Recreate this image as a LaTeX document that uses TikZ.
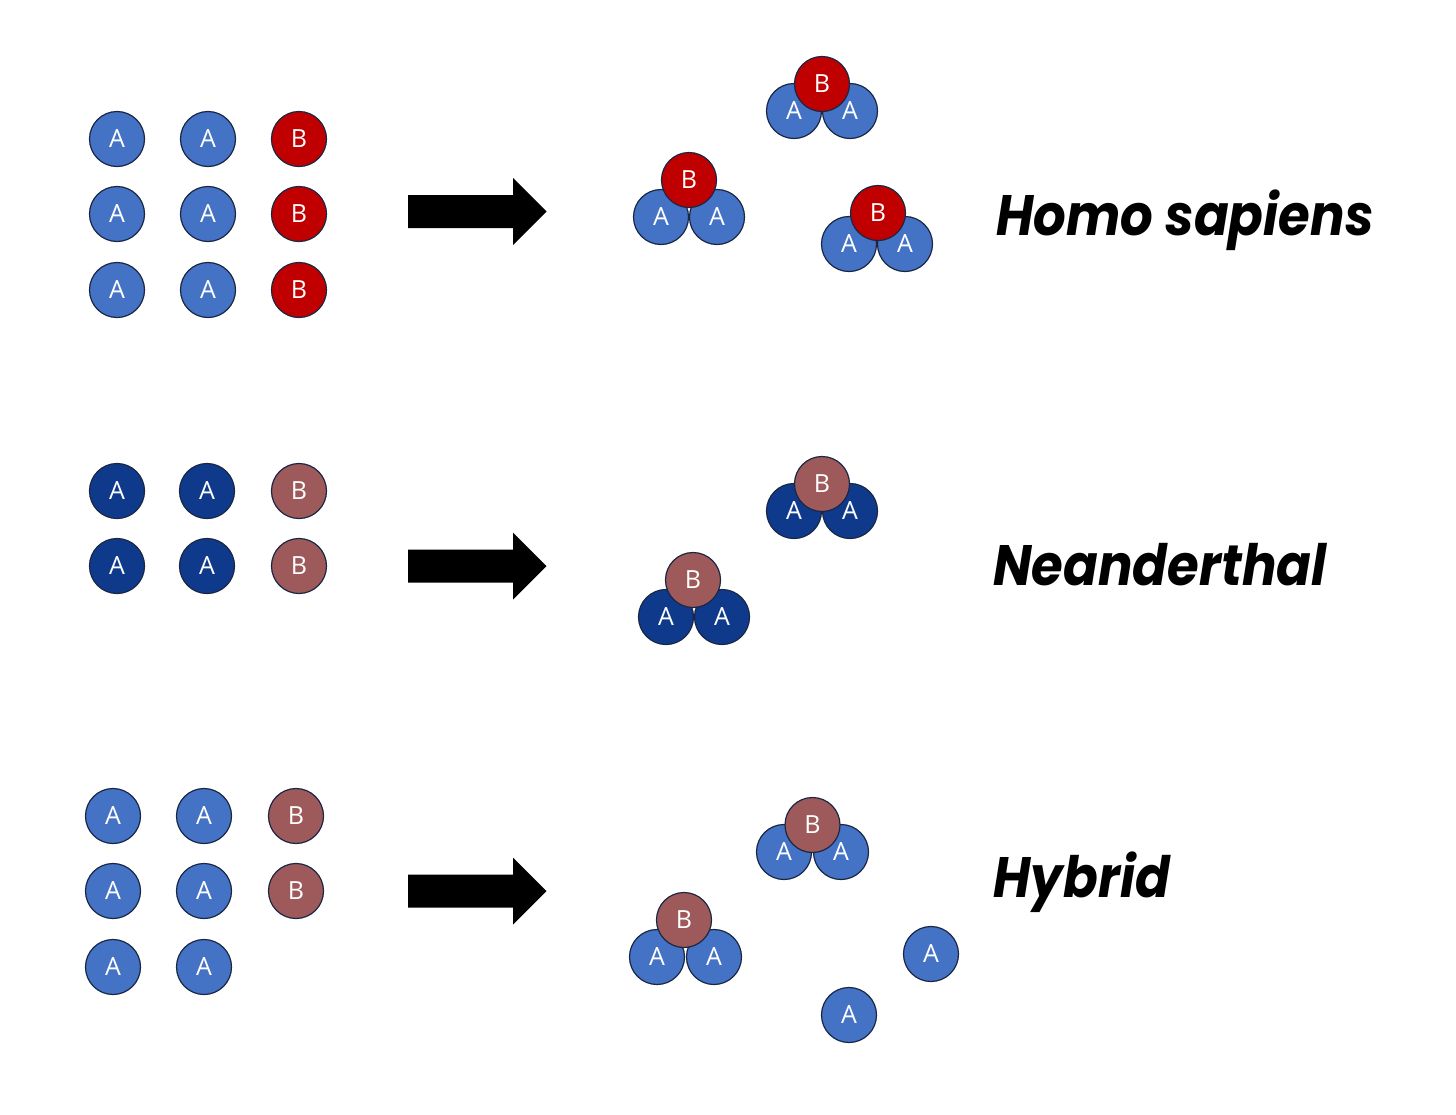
\documentclass[tikz,border=0pt]{standalone}
\usepackage{fontspec}
\setmainfont{Lato}
\newfontfamily\circfont{Open Sans}
\newfontfamily\titlefont{Poppins}[FakeStretch=0.9]
\definecolor{ablue}{HTML}{4472C4}
\definecolor{bred}{HTML}{C00000}
\definecolor{dblue}{HTML}{0F3A8C}
\definecolor{bbrown}{HTML}{9E5A5A}
\definecolor{rim}{HTML}{1A2744}
\begin{document}
\begin{tikzpicture}[x=0.5pt,y=-0.5pt,
  ball/.style={circle,draw=rim,line width=0.6pt,minimum size=27.5pt,inner sep=0pt,text=white,
    font=\circfont\fontsize{12.5}{12.5}\selectfont},
  la/.style={ball,fill=ablue},
  lb/.style={ball,fill=bred},
  da/.style={ball,fill=dblue},
  db/.style={ball,fill=bbrown},
  title/.style={anchor=base west,inner sep=0pt,font=\titlefont\fontsize{28.5}{28.5}\selectfont\bfseries\itshape},
  bigarrow/.style={fill=black}]
\useasboundingbox (0,0) rectangle (1456,1114);

% ---------- Row 1 ----------
\node[la] (r1a1) at (117,139) {A};
\node[la] (r1a2) at (208,139) {A};
\node[lb] (r1b1) at (299,139) {B};
\node[la] (r1a3) at (117,214) {A};
\node[la] (r1a4) at (208,214) {A};
\node[lb] (r1b2) at (299,214) {B};
\node[la] (r1a5) at (117,290) {A};
\node[la] (r1a6) at (208,290) {A};
\node[lb] (r1b3) at (299,290) {B};

\begin{scope}[shift={(0,211.5)}]
  \fill[bigarrow] (408,-16.5) -- (513,-16.5) -- (513,-33.5) -- (546.5,0) -- (513,33.5) -- (513,16.5) -- (408,16.5) -- cycle;
\end{scope}

\node[la] (c1a1) at (794,111) {A};
\node[la] (c1a2) at (850,111) {A};
\node[lb] (c1b)  at (822,84) {B};
\node[la] (c2a1) at (661,217) {A};
\node[la] (c2a2) at (717,217) {A};
\node[lb] (c2b)  at (689,180) {B};
\node[la] (c3a1) at (849,244) {A};
\node[la] (c3a2) at (905,244) {A};
\node[lb] (c3b)  at (878,213) {B};

\node[title] (t1) at (996,235) {Homo sapiens};

% ---------- Row 2 ----------
\node[da] (r2a1) at (117,491) {A};
\node[da] (r2a2) at (207,491) {A};
\node[db] (r2b1) at (299,491) {B};
\node[da] (r2a3) at (117,566) {A};
\node[da] (r2a4) at (207,566) {A};
\node[db] (r2b2) at (299,566) {B};

\begin{scope}[shift={(0,566)}]
  \fill[bigarrow] (408,-16.5) -- (513,-16.5) -- (513,-33.5) -- (546.5,0) -- (513,33.5) -- (513,16.5) -- (408,16.5) -- cycle;
\end{scope}

\node[da] (m1a1) at (794,511) {A};
\node[da] (m1a2) at (850,511) {A};
\node[db] (m1b)  at (822,484) {B};
\node[da] (m2a1) at (666,617) {A};
\node[da] (m2a2) at (722,617) {A};
\node[db] (m2b)  at (693,580) {B};

\node[title] (t2) at (993,585) {Neanderthal};

% ---------- Row 3 ----------
\node[la] (r3a1) at (113,816) {A};
\node[la] (r3a2) at (204,816) {A};
\node[db] (r3b1) at (296,816) {B};
\node[la] (r3a3) at (113,891) {A};
\node[la] (r3a4) at (204,891) {A};
\node[db] (r3b2) at (296,891) {B};
\node[la] (r3a5) at (113,967) {A};
\node[la] (r3a6) at (204,967) {A};

\begin{scope}[shift={(0,891)}]
  \fill[bigarrow] (408,-16.5) -- (513,-16.5) -- (513,-33.5) -- (546.5,0) -- (513,33.5) -- (513,16.5) -- (408,16.5) -- cycle;
\end{scope}

\node[la] (h1a1) at (784,852) {A};
\node[la] (h1a2) at (841,852) {A};
\node[db] (h1b)  at (812.5,825) {B};
\node[la] (h2a1) at (657,957) {A};
\node[la] (h2a2) at (714,957) {A};
\node[db] (h2b)  at (684,920) {B};
\node[la] (h3)   at (931,954) {A};
\node[la] (h4)   at (849,1015) {A};

\node[title] (t3) at (993,897) {Hybrid};
\end{tikzpicture}
\end{document}
